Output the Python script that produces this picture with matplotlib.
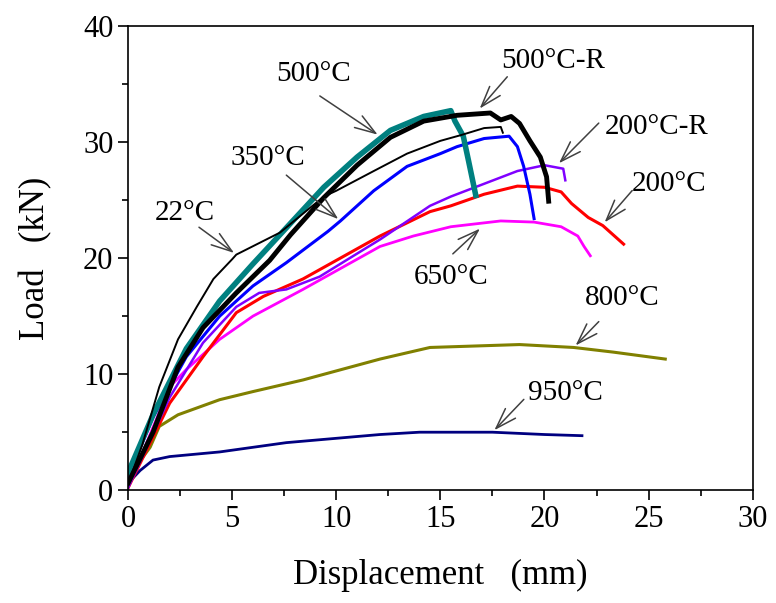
import matplotlib.pyplot as plt

plt.rcParams['font.family'] = ['Liberation Serif', 'DejaVu Serif']

# Load-displacement curves
x_22 = [0, 0.7, 1.5, 2.4, 3.3, 4.1, 5.0, 5.2, 7.3, 9.4, 10.0, 11.8, 13.4, 15.0, 16.0, 17.1, 17.9, 18.0]
y_22 = [0.5, 4.0, 8.9, 13.0, 15.8, 18.2, 19.9, 20.3, 22.2, 25.3, 25.8, 27.5, 29.0, 30.1, 30.6, 31.2, 31.3, 30.8]

x_500 = [0, 1.2, 2.8, 4.4, 6.0, 7.6, 9.4, 11.0, 12.6, 14.2, 15.5, 15.7, 16.1, 16.35, 16.7]
y_500 = [1.5, 6.5, 12.2, 16.3, 19.5, 22.6, 26.1, 28.7, 31.0, 32.2, 32.7, 31.8, 30.5, 28.4, 25.4]

x_500r = [0, 1.2, 2.4, 3.6, 5.2, 6.8, 7.8, 9.4, 11.0, 12.6, 14.2, 15.8, 17.4, 17.9, 18.4, 18.8, 19.3, 19.8, 20.1, 20.2]
y_500r = [0.6, 5.0, 10.6, 14.0, 17.0, 19.8, 22.0, 25.2, 28.0, 30.4, 31.8, 32.3, 32.5, 31.9, 32.2, 31.6, 30.1, 28.7, 27.0, 24.9]

x_350 = [0, 1.2, 2.8, 4.4, 6.0, 7.6, 9.6, 10.2, 11.8, 13.4, 15.0, 15.8, 17.1, 18.3, 18.7, 19.0, 19.3, 19.5]
y_350 = [1.1, 6.3, 11.5, 15.0, 17.6, 19.6, 22.3, 23.2, 25.8, 27.9, 29.0, 29.6, 30.3, 30.5, 29.6, 27.9, 25.5, 23.4]

x_200r = [0, 2.0, 3.6, 5.2, 6.3, 7.6, 9.2, 12.1, 14.5, 15.5, 17.1, 18.7, 20.0, 20.9, 21.0]
y_200r = [0.2, 8.0, 12.7, 15.8, 17.0, 17.3, 18.4, 21.6, 24.5, 25.3, 26.4, 27.5, 28.0, 27.7, 26.7]

x_200 = [0, 2.0, 3.6, 5.2, 6.5, 8.4, 12.1, 14.5, 15.5, 17.1, 18.7, 20.0, 20.8, 21.3, 22.1, 22.8, 23.8]
y_200 = [0.2, 7.5, 11.5, 15.3, 16.7, 18.2, 21.9, 24.0, 24.5, 25.5, 26.2, 26.1, 25.7, 24.7, 23.5, 22.8, 21.2]

x_650 = [0, 2.0, 2.8, 4.4, 6.0, 8.4, 12.1, 13.7, 15.5, 17.9, 19.5, 20.8, 21.6, 21.9, 22.2]
y_650 = [0.2, 8.9, 10.4, 13.0, 15.0, 17.3, 21.0, 21.9, 22.7, 23.2, 23.1, 22.7, 21.9, 21.0, 20.2]

x_800 = [0, 1.06, 1.5, 2.4, 4.4, 6.0, 8.4, 12.1, 14.5, 18.8, 21.4, 23.3, 25.8]
y_800 = [1.1, 3.7, 5.5, 6.5, 7.8, 8.5, 9.5, 11.3, 12.3, 12.55, 12.3, 11.9, 11.3]

x_950 = [0, 0.58, 1.2, 2.0, 4.4, 7.6, 12.1, 14.0, 17.5, 20.0, 21.8]
y_950 = [0.6, 1.7, 2.6, 2.9, 3.3, 4.1, 4.8, 5.0, 5.0, 4.8, 4.7]

# label text, text position, arrow tail, arrow tip
labels = ['22°C', '350°C', '500°C', '500°C-R', '200°C-R', '200°C', '650°C', '800°C', '950°C']
label_pos = [(2.74, 23.9), (6.73, 28.6), (8.9, 35.9), (20.4, 37.0), (25.4, 31.3),
             (26.0, 26.4), (15.5, 18.4), (23.75, 16.6), (21.0, 8.4)]
tail_pos = [(3.3, 22.8), (7.5, 27.3), (9.1, 34.1), (18.3, 35.8), (22.7, 31.8),
            (24.3, 26.0), (15.5, 20.2), (22.7, 14.7), (19.1, 8.0)]
tip_pos = [(5.2, 20.3), (10.2, 23.2), (12.1, 30.5), (16.8, 32.7), (20.6, 28.0),
           (22.8, 22.9), (17.0, 22.7), (21.4, 12.3), (17.5, 5.0)]

fig = plt.figure(figsize=(7.76, 6.03), dpi=100)
ax = fig.add_axes([0.165, 0.187, 0.805, 0.770])

ax.plot(x_950, y_950, color='#000080', lw=2)
ax.plot(x_800, y_800, color='#808000', lw=2.2)
ax.plot(x_650, y_650, color='#ff00ff', lw=2)
ax.plot(x_200, y_200, color='#ff0000', lw=2.2)
ax.plot(x_200r, y_200r, color='#8000ff', lw=1.8)
ax.plot(x_350, y_350, color='#0000ff', lw=2.2)
ax.plot(x_500, y_500, color='#008080', lw=4)
ax.plot(x_500r, y_500r, color='black', lw=3.5)
ax.plot(x_22, y_22, color='black', lw=1.4)

for lab, (tx, ty), (ax0, ay0), (hx, hy) in zip(labels, label_pos, tail_pos, tip_pos):
    ax.text(tx, ty, lab, fontsize=21, ha='center', va='center')
    ax.annotate('', xy=(hx, hy), xytext=(ax0, ay0),
                arrowprops=dict(arrowstyle='->,head_length=1.5,head_width=0.5',
                                color='#404040', lw=1.1))

ax.set_xlim(0, 30)
ax.set_ylim(0, 40)
ax.set_xticks([0, 5, 10, 15, 20, 25, 30])
ax.set_xticks([2.5, 7.5, 12.5, 17.5, 22.5, 27.5], minor=True)
ax.set_yticks([0, 10, 20, 30, 40])
ax.set_yticks([5, 15, 25, 35], minor=True)
ax.tick_params(which='both', direction='out', labelsize=22, width=1.2)
ax.tick_params(which='major', length=7)
ax.tick_params(which='minor', length=4)
for s in ax.spines.values():
    s.set_linewidth(1.2)

ax.set_xlabel('Displacement   (mm)', fontsize=25, labelpad=18)
ax.set_ylabel('Load   (kN)', fontsize=25, labelpad=22)

fig.savefig('out.png', dpi=100)
